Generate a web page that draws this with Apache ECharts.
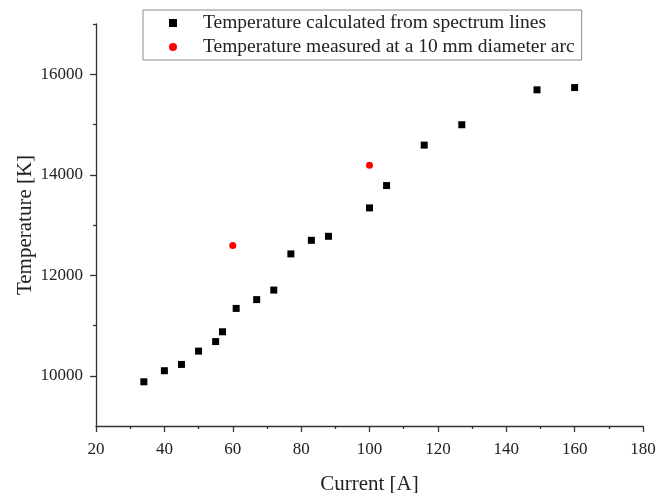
<!DOCTYPE html>
<html>
<head>
<meta charset="utf-8">
<script src="https://cdn.jsdelivr.net/npm/echarts@6/dist/echarts.min.js"></script>
<style>html,body{margin:0;padding:0;background:#fff}#c{width:659px;height:493px}</style>
</head>
<body>
<div id="c"></div>
<script>
const seriesNames = ['Temperature calculated from spectrum lines', 'Temperature measured at a 10 mm diameter arc'];
const calcCurrent = [34, 40, 45, 50, 55, 57, 61, 67, 72, 77, 83, 88, 100, 105, 116, 127, 149, 160];
const calcTemp = [9880, 10100, 10225, 10490, 10680, 10875, 11340, 11515, 11705, 12425, 12695, 12775, 13340, 13785, 14590, 14995, 15690, 15735];
const measCurrent = [60, 100];
const measTemp = [12590, 14190];
const xTicks = [20, 40, 60, 80, 100, 120, 140, 160, 180];
const yMajorTicks = [10000, 12000, 14000, 16000];
const yMinorTicks = [11000, 13000, 15000, 17000];

const font = 'Liberation Serif';
const calcData = calcCurrent.map((c, i) => [c, calcTemp[i]]);
const measData = measCurrent.map((c, i) => [c, measTemp[i]]);

const chart = echarts.init(document.getElementById('c'));
chart.setOption({
  animation: false,
  backgroundColor: '#fff',
  grid: { left: 96, right: 16, top: 24, bottom: 67, containLabel: false, outerBoundsMode: 'none' },
  legend: {
    data: seriesNames,
    orient: 'vertical',
    left: 143,
    top: 10,
    padding: [3, 7, 3, 26],
    itemGap: 4,
    itemWidth: 8,
    itemHeight: 8,
    borderColor: '#8c8c8c',
    borderWidth: 1,
    textStyle: { fontFamily: font, fontSize: 19.5, color: '#222', lineHeight: 20, padding: [0, 0, 0, 21] }
  },
  xAxis: {
    type: 'value',
    min: xTicks[0],
    max: xTicks[xTicks.length - 1],
    interval: 20,
    name: 'Current [A]',
    nameLocation: 'middle',
    nameGap: 48,
    nameMoveOverlap: false,
    nameTextStyle: { fontFamily: font, fontSize: 21, color: '#222' },
    axisLine: { show: true, lineStyle: { color: '#333', width: 1.3 } },
    axisTick: { show: true, inside: false, length: 6, lineStyle: { color: '#333', width: 1.3 } },
    minorTick: { show: true, splitNumber: 2, length: 3, lineStyle: { color: '#333', width: 1.3 } },
    axisLabel: { fontFamily: font, fontSize: 17, color: '#222', margin: 15 },
    splitLine: { show: false }
  },
  yAxis: [{
    type: 'value',
    min: 9000,
    max: 17000,
    name: 'Temperature [K]',
    nameLocation: 'middle',
    nameGap: 60,
    nameMoveOverlap: false,
    nameTextStyle: { fontFamily: font, fontSize: 21, color: '#222' },
    axisLine: { show: true, lineStyle: { color: '#333', width: 1.3 } },
    axisTick: { show: true, inside: false, length: 6, customValues: yMajorTicks, lineStyle: { color: '#333', width: 1.3 } },
    axisLabel: { fontFamily: font, fontSize: 17, color: '#222', margin: 13, customValues: yMajorTicks, formatter: v => String(v) },
    splitLine: { show: false }
  }, {
    type: 'value',
    position: 'left',
    min: 9000,
    max: 17000,
    axisLine: { show: false },
    axisTick: { show: true, inside: false, length: 3, customValues: yMinorTicks, lineStyle: { color: '#333', width: 1.3 } },
    axisLabel: { show: false, customValues: yMinorTicks },
    splitLine: { show: false }
  }],
  series: [{
    name: seriesNames[0],
    type: 'scatter',
    symbol: 'rect',
    symbolSize: 7,
    itemStyle: { color: '#000', opacity: 1 },
    data: calcData
  }, {
    name: seriesNames[1],
    type: 'scatter',
    symbol: 'circle',
    symbolSize: 7,
    itemStyle: { color: '#ff0000', opacity: 1 },
    data: measData
  }]
});
</script>
</body>
</html>
